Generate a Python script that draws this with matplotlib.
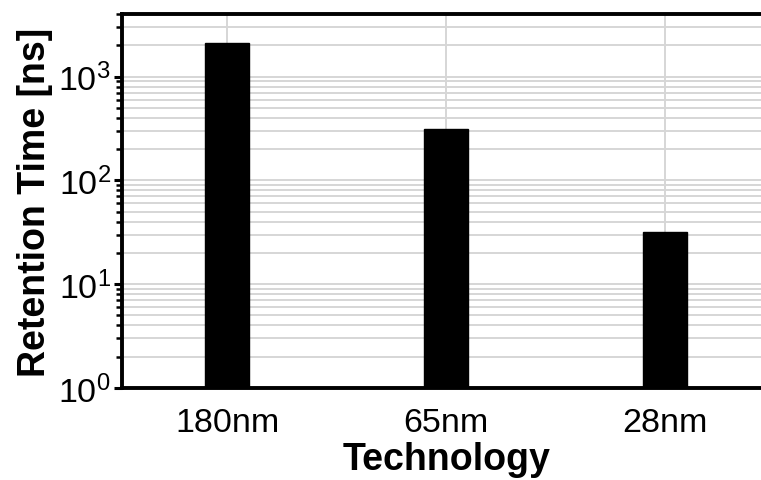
import numpy as np
import matplotlib
matplotlib.use("Agg")
import matplotlib.pyplot as plt
from matplotlib.ticker import LogLocator, NullFormatter

# data
technologies = ["180nm", "65nm", "28nm"]
retention_ns = [2100, 315, 32]

plt.rcParams["font.family"] = ["Liberation Sans", "DejaVu Sans"]
plt.rcParams["mathtext.fontset"] = "custom"
plt.rcParams["mathtext.rm"] = "Liberation Sans"
plt.rcParams["mathtext.it"] = "Liberation Sans:italic"
plt.rcParams["mathtext.bf"] = "Liberation Sans:bold"

fig = plt.figure(figsize=(7.61, 4.81), dpi=100)
ax = fig.add_axes([0.1603, 0.1913, 0.852, 0.7775])

x = np.arange(len(technologies))
ax.bar(x, retention_ns, width=0.2, color="black", edgecolor="black", zorder=3)

ax.set_yscale("log")
ax.set_ylim(1, 4000)
ax.set_xlim(-0.48, 2.48)

ax.yaxis.set_major_locator(LogLocator(base=10, numticks=10))
ax.yaxis.set_minor_locator(LogLocator(base=10, subs=np.arange(2, 10), numticks=20))
ax.yaxis.set_minor_formatter(NullFormatter())

ax.set_xticks(x)
ax.set_xticklabels(technologies)

ax.set_axisbelow(True)
ax.grid(True, which="both", axis="y", color="#d6d6d6", linewidth=1.4)
ax.grid(True, which="major", axis="x", color="#d6d6d6", linewidth=1.4)

for side in ["left", "bottom", "top"]:
    ax.spines[side].set_linewidth(2.8)
ax.spines["right"].set_visible(False)

ax.tick_params(axis="y", which="major", direction="out", length=6, width=2.2,
               labelsize=24.5, pad=2)
ax.tick_params(axis="y", which="minor", direction="out", length=4, width=1.8)
ax.tick_params(axis="x", length=0, labelsize=24.5, pad=14)

# reference clips the descenders at the bottom edge; keep it just inside
ax.set_xlabel("Technology", fontsize=27, fontweight="bold", labelpad=2)
ax.set_ylabel("Retention Time [ns]", fontsize=27, fontweight="bold", labelpad=4)

fig.savefig("out.png", dpi=100)
